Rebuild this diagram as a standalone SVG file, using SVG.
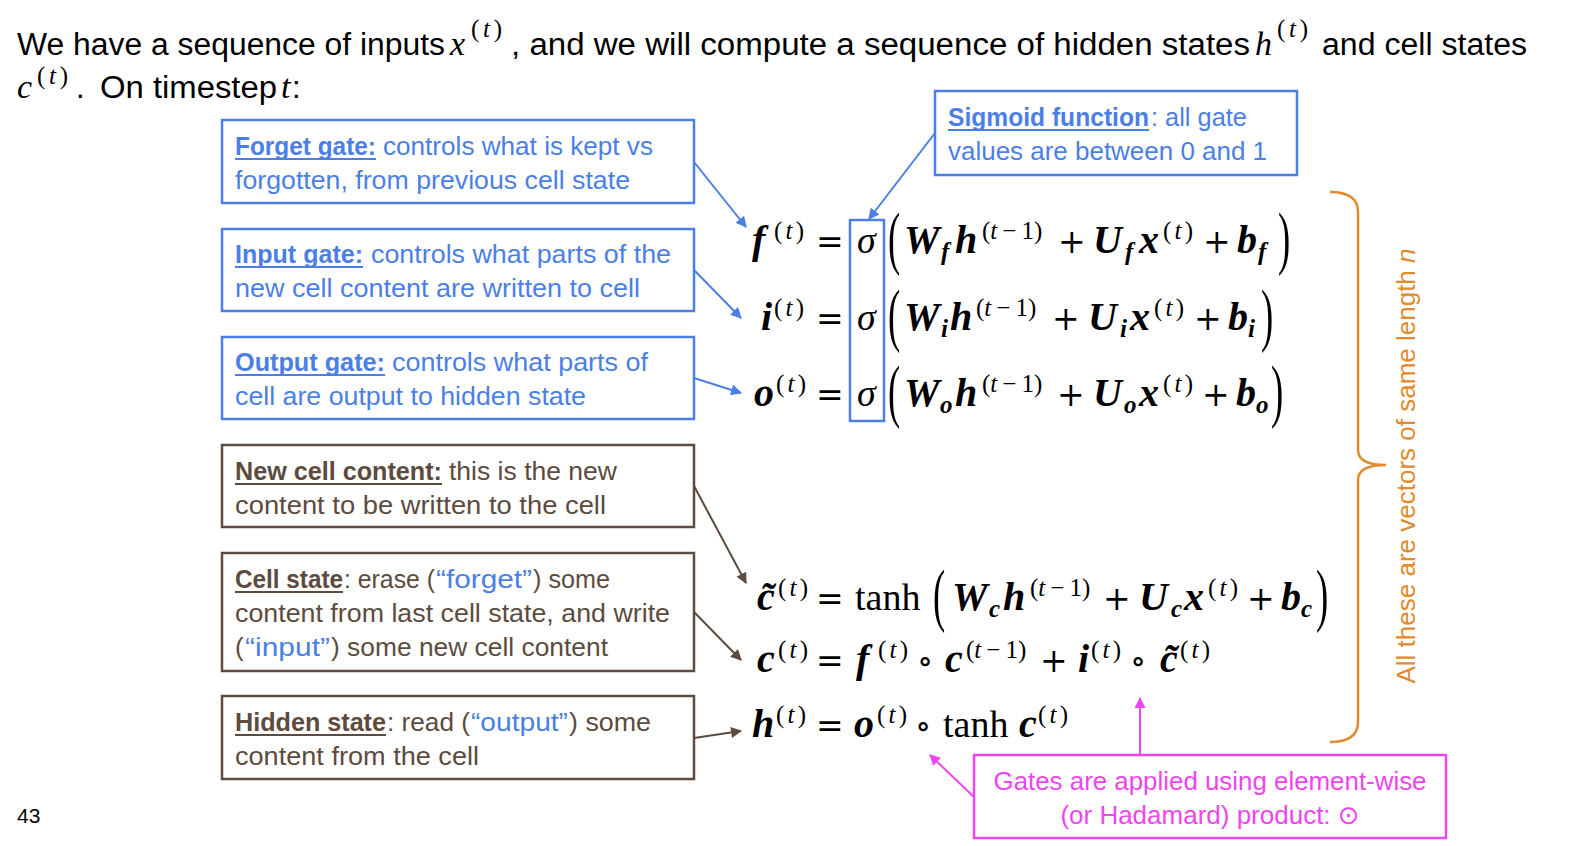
<svg xmlns="http://www.w3.org/2000/svg" width="1574" height="846" viewBox="0 0 1574 846">
<defs>
<style>
.s{font-family:"Liberation Sans",Arial,sans-serif}
.tt{font-size:31px;fill:#000}
.bx{font-size:26px}
.b{font-weight:bold}
.blue{fill:#4b7fe6}
.brown{fill:#5c4b3e}
.mag{fill:#ee45ee}
.org{fill:#e08b2e}
.bb{fill:#fff;stroke:#4b7fe6;stroke-width:2.5}
.bw{fill:#fff;stroke:#5c4b3e;stroke-width:2.5}
.ul{stroke-width:1.8}
.mi{font-family:"Liberation Serif","Times New Roman",serif;font-style:italic;font-size:34px;fill:#000}
.mis{font-family:"Liberation Serif","Times New Roman",serif;font-size:25px;fill:#000}
.mv{font-family:"Liberation Serif","Times New Roman",serif;font-weight:bold;font-style:italic;font-size:40px;fill:#000}
.mr{font-family:"Liberation Serif","Times New Roman",serif;font-size:38px;fill:#000}
.mo{font-family:"DejaVu Serif",serif;font-size:33px;fill:#000}
.ms{font-family:"Liberation Serif","Times New Roman",serif;font-size:25px;fill:#000}
.msb{font-family:"Liberation Serif","Times New Roman",serif;font-weight:bold;font-style:italic;font-size:25px;fill:#000}
.pa{font-family:"Liberation Serif","Times New Roman",serif;font-size:46px;fill:#000}
.i{font-style:italic}
.cb{fill:none;stroke-width:2}
</style>
<marker id="ab" viewBox="0 0 10 10" refX="9" refY="5" markerWidth="13" markerHeight="11" markerUnits="userSpaceOnUse" orient="auto"><path d="M0,0 L10,5 L0,10 z" fill="#4b7fe6"/></marker>
<marker id="aw" viewBox="0 0 10 10" refX="9" refY="5" markerWidth="13" markerHeight="11" markerUnits="userSpaceOnUse" orient="auto"><path d="M0,0 L10,5 L0,10 z" fill="#5c4b3e"/></marker>
<marker id="am" viewBox="0 0 10 10" refX="9" refY="5" markerWidth="13" markerHeight="11" markerUnits="userSpaceOnUse" orient="auto"><path d="M0,0 L10,5 L0,10 z" fill="#ee45ee"/></marker>
</defs>
<rect width="1574" height="846" fill="#fff"/>

<g id="title">
<text class="s tt" x="17" y="55" textLength="428" lengthAdjust="spacingAndGlyphs">We have a sequence of inputs</text>
<text class="mi" x="450" y="55">x</text>
<text class="mis" x="471" y="37" textLength="31" lengthAdjust="spacing">(<tspan class="i">t</tspan>)</text>
<text class="s tt" x="511" y="55" textLength="739" lengthAdjust="spacingAndGlyphs">, and we will compute a sequence of hidden states</text>
<text class="mi" x="1255" y="55">h</text>
<text class="mis" x="1277" y="37" textLength="31" lengthAdjust="spacing">(<tspan class="i">t</tspan>)</text>
<text class="s tt" x="1322" y="55" textLength="205" lengthAdjust="spacingAndGlyphs">and cell states</text>
<text class="mi" x="17" y="98">c</text>
<text class="mis" x="37" y="84" textLength="31" lengthAdjust="spacing">(<tspan class="i">t</tspan>)</text>
<text class="s tt" x="76" y="98">.</text>
<text class="s tt" x="100" y="98" textLength="177" lengthAdjust="spacingAndGlyphs">On timestep</text>
<text class="mi" x="281" y="98">t</text>
<text class="s tt" x="292" y="98">:</text>
</g>

<g id="connectors">
<line id="c-forget" class="cb" x1="694" y1="162" x2="746" y2="227" stroke="#4b7fe6" marker-end="url(#ab)"/>
<line id="c-input" class="cb" x1="694" y1="270" x2="741" y2="318" stroke="#4b7fe6" marker-end="url(#ab)"/>
<line id="c-output" class="cb" x1="694" y1="378" x2="741" y2="393" stroke="#4b7fe6" marker-end="url(#ab)"/>
<line id="c-sigmoid" class="cb" x1="935" y1="133" x2="869" y2="219" stroke="#4b7fe6" marker-end="url(#ab)"/>
<line id="c-newcell" class="cb" x1="694" y1="486" x2="746" y2="583" stroke="#5c4b3e" marker-end="url(#aw)"/>
<line id="c-cell" class="cb" x1="694" y1="612" x2="741" y2="660" stroke="#5c4b3e" marker-end="url(#aw)"/>
<line id="c-hidden" class="cb" x1="694" y1="738" x2="741" y2="731" stroke="#5c4b3e" marker-end="url(#aw)"/>
<line id="c-had1" class="cb" x1="1140" y1="755" x2="1140" y2="698" stroke="#ee45ee" marker-end="url(#am)"/>
<line id="c-had2" class="cb" x1="974" y1="797" x2="930" y2="755" stroke="#ee45ee" marker-end="url(#am)"/>
</g>

<g id="forget-gate">
<rect class="bb" x="222" y="120" width="472" height="83"/>
<text class="s bx b blue" x="235" y="155" textLength="141" lengthAdjust="spacingAndGlyphs">Forget gate:</text>
<line class="ul" x1="235" y1="159" x2="376" y2="159" stroke="#4b7fe6"/>
<text class="s bx blue" x="383" y="155" textLength="270" lengthAdjust="spacingAndGlyphs">controls what is kept vs</text>
<text class="s bx blue" x="235" y="189" textLength="395" lengthAdjust="spacingAndGlyphs">forgotten, from previous cell state</text>
</g>

<g id="input-gate">
<rect class="bb" x="222" y="229" width="472" height="82"/>
<text class="s bx b blue" x="235" y="263" textLength="128" lengthAdjust="spacingAndGlyphs">Input gate:</text>
<line class="ul" x1="235" y1="267" x2="363" y2="267" stroke="#4b7fe6"/>
<text class="s bx blue" x="371" y="263" textLength="300" lengthAdjust="spacingAndGlyphs">controls what parts of the</text>
<text class="s bx blue" x="235" y="297" textLength="405" lengthAdjust="spacingAndGlyphs">new cell content are written to cell</text>
</g>

<g id="output-gate">
<rect class="bb" x="222" y="337" width="472" height="82"/>
<text class="s bx b blue" x="235" y="371" textLength="150" lengthAdjust="spacingAndGlyphs">Output gate:</text>
<line class="ul" x1="235" y1="375" x2="385" y2="375" stroke="#4b7fe6"/>
<text class="s bx blue" x="392" y="371" textLength="256" lengthAdjust="spacingAndGlyphs">controls what parts of</text>
<text class="s bx blue" x="235" y="405" textLength="351" lengthAdjust="spacingAndGlyphs">cell are output to hidden state</text>
</g>

<g id="new-cell-content">
<rect class="bw" x="222" y="445" width="472" height="82"/>
<text class="s bx b brown" x="235" y="480" textLength="207" lengthAdjust="spacingAndGlyphs">New cell content:</text>
<line class="ul" x1="235" y1="484" x2="442" y2="484" stroke="#5c4b3e"/>
<text class="s bx brown" x="449" y="480" textLength="168" lengthAdjust="spacingAndGlyphs">this is the new</text>
<text class="s bx brown" x="235" y="514" textLength="371" lengthAdjust="spacingAndGlyphs">content to be written to the cell</text>
</g>

<g id="cell-state">
<rect class="bw" x="222" y="553" width="472" height="118"/>
<text class="s bx b brown" x="235" y="588" textLength="108" lengthAdjust="spacingAndGlyphs">Cell state</text>
<line class="ul" x1="235" y1="592" x2="343" y2="592" stroke="#5c4b3e"/>
<text class="s bx brown" x="344" y="588" textLength="91" lengthAdjust="spacingAndGlyphs">: erase (</text>
<text class="s bx blue" x="436" y="588" textLength="96" lengthAdjust="spacingAndGlyphs">“forget”</text>
<text class="s bx brown" x="533" y="588" textLength="77" lengthAdjust="spacingAndGlyphs">) some</text>
<text class="s bx brown" x="235" y="622" textLength="435" lengthAdjust="spacingAndGlyphs">content from last cell state, and write</text>
<text class="s bx brown" x="235" y="656">(</text>
<text class="s bx blue" x="245" y="656" textLength="85" lengthAdjust="spacingAndGlyphs">“input”</text>
<text class="s bx brown" x="331" y="656" textLength="277" lengthAdjust="spacingAndGlyphs">) some new cell content</text>
</g>

<g id="hidden-state">
<rect class="bw" x="222" y="696" width="472" height="83"/>
<text class="s bx b brown" x="235" y="731" textLength="151" lengthAdjust="spacingAndGlyphs">Hidden state</text>
<line class="ul" x1="235" y1="735" x2="386" y2="735" stroke="#5c4b3e"/>
<text class="s bx brown" x="387" y="731" textLength="83" lengthAdjust="spacingAndGlyphs">: read (</text>
<text class="s bx blue" x="471" y="731" textLength="97" lengthAdjust="spacingAndGlyphs">“output”</text>
<text class="s bx brown" x="569" y="731" textLength="82" lengthAdjust="spacingAndGlyphs">) some</text>
<text class="s bx brown" x="235" y="765" textLength="244" lengthAdjust="spacingAndGlyphs">content from the cell</text>
</g>

<g id="sigmoid">
<rect class="bb" x="935" y="91" width="362" height="84"/>
<text class="s bx b blue" x="948" y="126" textLength="201" lengthAdjust="spacingAndGlyphs">Sigmoid function</text>
<line class="ul" x1="948" y1="130" x2="1149" y2="130" stroke="#4b7fe6"/>
<text class="s bx blue" x="1151" y="126" textLength="96" lengthAdjust="spacingAndGlyphs">: all gate</text>
<text class="s bx blue" x="948" y="160" textLength="319" lengthAdjust="spacingAndGlyphs">values are between 0 and 1</text>
</g>

<g id="sigma-box">
<rect x="850" y="220" width="34" height="201" fill="none" stroke="#4b7fe6" stroke-width="2.5"/>
</g>

<g id="eq-f">
<text class="mv" x="752" y="253">f</text>
<text class="ms" x="774" y="239" textLength="30" lengthAdjust="spacing">(<tspan class="i">t</tspan>)</text>
<text class="mo" x="816" y="253">=</text>
<text class="mr i" x="857" y="253">σ</text>
<text class="pa" transform="translate(888,261) scale(0.8,1.5)">(</text>
<text class="mv" x="904" y="253">W</text>
<text class="msb" x="941" y="260">f</text>
<text class="mv" x="955" y="253">h</text>
<text class="ms" x="982" y="239">(<tspan class="i">t</tspan><tspan dx="5">−</tspan><tspan dx="5">1)</tspan></text>
<text class="mo" x="1058" y="253">+</text>
<text class="mv" x="1093" y="253">U</text>
<text class="msb" x="1125" y="260">f</text>
<text class="mv" x="1139" y="253">x</text>
<text class="ms" x="1163" y="239" textLength="30" lengthAdjust="spacing">(<tspan class="i">t</tspan>)</text>
<text class="mo" x="1203" y="253">+</text>
<text class="mv" x="1237" y="253">b</text>
<text class="msb" x="1258" y="260">f</text>
<text class="pa" transform="translate(1278,261) scale(0.8,1.5)">)</text>
</g>

<g id="eq-i">
<text class="mv" x="761" y="330">i</text>
<text class="ms" x="774" y="316" textLength="30" lengthAdjust="spacing">(<tspan class="i">t</tspan>)</text>
<text class="mo" x="816" y="330">=</text>
<text class="mr i" x="857" y="330">σ</text>
<text class="pa" transform="translate(888,338) scale(0.8,1.5)">(</text>
<text class="mv" x="904" y="330">W</text>
<text class="msb" x="941" y="337">i</text>
<text class="mv" x="950" y="330">h</text>
<text class="ms" x="976" y="316">(<tspan class="i">t</tspan><tspan dx="5">−</tspan><tspan dx="5">1)</tspan></text>
<text class="mo" x="1052" y="330">+</text>
<text class="mv" x="1088" y="330">U</text>
<text class="msb" x="1120" y="337">i</text>
<text class="mv" x="1130" y="330">x</text>
<text class="ms" x="1154" y="316" textLength="30" lengthAdjust="spacing">(<tspan class="i">t</tspan>)</text>
<text class="mo" x="1194" y="330">+</text>
<text class="mv" x="1228" y="330">b</text>
<text class="msb" x="1248" y="337">i</text>
<text class="pa" transform="translate(1261,338) scale(0.8,1.5)">)</text>
</g>

<g id="eq-o">
<text class="mv" x="754" y="406">o</text>
<text class="ms" x="776" y="392" textLength="30" lengthAdjust="spacing">(<tspan class="i">t</tspan>)</text>
<text class="mo" x="816" y="406">=</text>
<text class="mr i" x="857" y="406">σ</text>
<text class="pa" transform="translate(888,414) scale(0.8,1.5)">(</text>
<text class="mv" x="904" y="406">W</text>
<text class="msb" x="940" y="413">o</text>
<text class="mv" x="955" y="406">h</text>
<text class="ms" x="982" y="392">(<tspan class="i">t</tspan><tspan dx="5">−</tspan><tspan dx="5">1)</tspan></text>
<text class="mo" x="1057" y="406">+</text>
<text class="mv" x="1093" y="406">U</text>
<text class="msb" x="1124" y="413">o</text>
<text class="mv" x="1139" y="406">x</text>
<text class="ms" x="1163" y="392" textLength="30" lengthAdjust="spacing">(<tspan class="i">t</tspan>)</text>
<text class="mo" x="1202" y="406">+</text>
<text class="mv" x="1236" y="406">b</text>
<text class="msb" x="1256" y="413">o</text>
<text class="pa" transform="translate(1271,414) scale(0.8,1.5)">)</text>
</g>

<g id="eq-ctilde">
<text class="mv" x="757" y="610">c̃</text>
<text class="ms" x="778" y="596" textLength="30" lengthAdjust="spacing">(<tspan class="i">t</tspan>)</text>
<text class="mo" x="816" y="610">=</text>
<text class="mr" x="855" y="610">tanh</text>
<text class="pa" transform="translate(933,618) scale(0.8,1.5)">(</text>
<text class="mv" x="952" y="610">W</text>
<text class="msb" x="989" y="617">c</text>
<text class="mv" x="1003" y="610">h</text>
<text class="ms" x="1030" y="596">(<tspan class="i">t</tspan><tspan dx="5">−</tspan><tspan dx="5">1)</tspan></text>
<text class="mo" x="1103" y="610">+</text>
<text class="mv" x="1139" y="610">U</text>
<text class="msb" x="1171" y="617">c</text>
<text class="mv" x="1184" y="610">x</text>
<text class="ms" x="1208" y="596" textLength="30" lengthAdjust="spacing">(<tspan class="i">t</tspan>)</text>
<text class="mo" x="1247" y="610">+</text>
<text class="mv" x="1281" y="610">b</text>
<text class="msb" x="1301" y="617">c</text>
<text class="pa" transform="translate(1316,618) scale(0.8,1.5)">)</text>
</g>

<g id="eq-c">
<text class="mv" x="757" y="672">c</text>
<text class="ms" x="778" y="658" textLength="30" lengthAdjust="spacing">(<tspan class="i">t</tspan>)</text>
<text class="mo" x="816" y="672">=</text>
<text class="mv" x="856" y="672">f</text>
<text class="ms" x="878" y="658" textLength="30" lengthAdjust="spacing">(<tspan class="i">t</tspan>)</text>
<text class="mo" x="917" y="672">∘</text>
<text class="mv" x="945" y="672">c</text>
<text class="ms" x="966" y="658">(<tspan class="i">t</tspan><tspan dx="5">−</tspan><tspan dx="5">1)</tspan></text>
<text class="mo" x="1040" y="672">+</text>
<text class="mv" x="1078" y="672">i</text>
<text class="ms" x="1091" y="658" textLength="30" lengthAdjust="spacing">(<tspan class="i">t</tspan>)</text>
<text class="mo" x="1130" y="672">∘</text>
<text class="mv" x="1160" y="672">c̃</text>
<text class="ms" x="1180" y="658" textLength="30" lengthAdjust="spacing">(<tspan class="i">t</tspan>)</text>
</g>

<g id="eq-h">
<text class="mv" x="752" y="737">h</text>
<text class="ms" x="776" y="723" textLength="30" lengthAdjust="spacing">(<tspan class="i">t</tspan>)</text>
<text class="mo" x="816" y="737">=</text>
<text class="mv" x="854" y="737">o</text>
<text class="ms" x="877" y="723" textLength="30" lengthAdjust="spacing">(<tspan class="i">t</tspan>)</text>
<text class="mo" x="915" y="737">∘</text>
<text class="mr" x="943" y="737">tanh</text>
<text class="mv" x="1019" y="737">c</text>
<text class="ms" x="1038" y="723" textLength="30" lengthAdjust="spacing">(<tspan class="i">t</tspan>)</text>
</g>

<g id="brace">
<path d="M1330,192 Q1358,192 1358,212 L1358,450 Q1358,465 1386,465 Q1358,465 1358,480 L1358,722 Q1358,742 1330,742" fill="none" stroke="#e08b2e" stroke-width="2.5"/>
<text class="s org" font-size="26" text-anchor="middle" transform="translate(1415,466) rotate(-90)">All these are vectors of same length <tspan class="i">n</tspan></text>
</g>

<g id="hadamard">
<rect x="974" y="755" width="472" height="83" fill="#fff" stroke="#ee45ee" stroke-width="2.5"/>
<text class="s mag" font-size="26" x="1210" y="790" text-anchor="middle" textLength="433" lengthAdjust="spacingAndGlyphs">Gates are applied using element-wise</text>
<text class="s mag" font-size="26" x="1210" y="824" text-anchor="middle">(or Hadamard) product: <tspan font-family="DejaVu Sans,sans-serif">⊙</tspan></text>
</g>

<text id="page" class="s" font-size="21" x="17" y="823" fill="#000">43</text>
</svg>
